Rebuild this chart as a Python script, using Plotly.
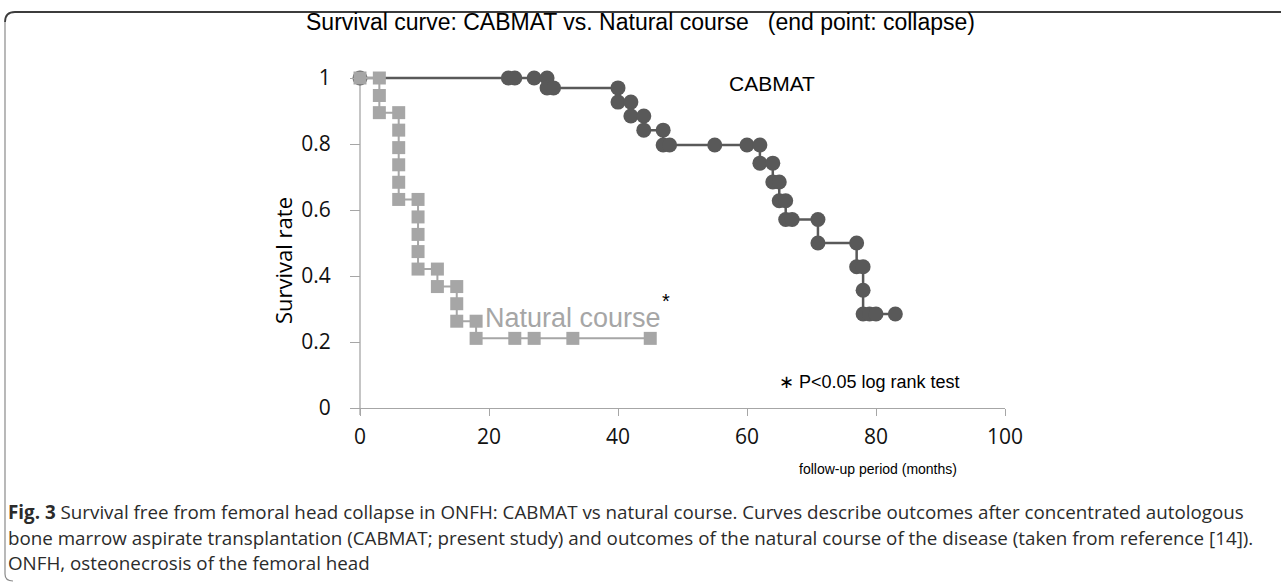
import plotly.graph_objects as go

# ---------------- data ----------------
x_ticks = [0, 20, 40, 60, 80, 100]
y_ticks = [0, 0.2, 0.4, 0.6, 0.8, 1]
y_tick_text = ["0", "0.2", "0.4", "0.6", "0.8", "1"]

# Natural course (Kaplan-Meier step points, months / survival rate)
nat_months = [0, 3, 3, 3, 6, 6, 6, 6, 6, 6, 9, 9, 9, 9, 9, 12, 12, 15, 15, 15,
              18, 18, 24, 27, 33, 45]
nat_surv = [1, 1, 0.947, 0.895, 0.895, 0.842, 0.789, 0.737, 0.684, 0.632,
            0.632, 0.579, 0.526, 0.474, 0.421, 0.421, 0.368, 0.368, 0.316, 0.263,
            0.263, 0.211, 0.211, 0.211, 0.211, 0.211]

# CABMAT
cab_months = [0, 23, 24, 27, 29, 29, 30, 40, 40, 42, 42, 44, 44, 47, 47, 48, 55,
              60, 62, 62, 64, 64, 65, 65, 66, 66, 67, 71, 71, 77, 77, 78, 78, 78,
              79, 80, 83]
cab_surv = [1, 1, 1, 1, 1, 0.97, 0.97, 0.97, 0.927, 0.927, 0.885, 0.885, 0.842,
            0.842, 0.797, 0.797, 0.797, 0.797, 0.797, 0.742, 0.742, 0.685, 0.685,
            0.628, 0.628, 0.571, 0.571, 0.571, 0.5, 0.5, 0.428, 0.428, 0.357,
            0.285, 0.285, 0.285, 0.285]

W, H = 1281, 582
DARK = "#595959"
LIGHT = "#a6a6a6"
AXIS = "#a6a6a6"


def px(x):
    return x / W


def py(y):
    return 1 - y / H


fig = go.Figure()

fig.add_trace(go.Scatter(
    x=cab_months, y=cab_surv, mode="lines+markers", cliponaxis=False,
    line=dict(color=DARK, width=2.5),
    marker=dict(symbol="circle", size=15, color=DARK, line=dict(width=0)),
    showlegend=False, hoverinfo="skip"))

fig.add_trace(go.Scatter(
    x=nat_months, y=nat_surv, mode="lines+markers", cliponaxis=False,
    line=dict(color=LIGHT, width=2),
    marker=dict(symbol="square", size=13, color=LIGHT, line=dict(width=0)),
    showlegend=False, hoverinfo="skip"))

# axis geometry: x=0 at px 360, x=100 at px 1005; y=0 at px 408, y=1 at px 78
xscale = (1005 - 360) / 100.0
yscale = (408 - 78) / 1.0
x_lo = -(360 - 352) / xscale
y_lo = -(415 - 408) / yscale
y_hi = 1 + (78 - 55) / yscale

TICKFONT = dict(family="Open Sans", size=21, color="#111")

fig.update_layout(
    width=W, height=H, autosize=False,
    margin=dict(l=0, r=0, t=0, b=0, pad=0, autoexpand=False),
    paper_bgcolor="white", plot_bgcolor="rgba(0,0,0,0)",
    showlegend=False,
    xaxis=dict(
        domain=[px(352), px(1005)], range=[x_lo, 100], automargin=False,
        anchor="free", position=py(408),
        showline=True, linecolor=AXIS, linewidth=1.3,
        ticks="outside", ticklen=7, tickcolor=AXIS, tickwidth=1.3,
        tickvals=x_ticks, ticktext=[str(v) for v in x_ticks],
        tickfont=TICKFONT, ticklabelstandoff=3,
        showgrid=False, zeroline=False,
    ),
    yaxis=dict(
        domain=[py(415), py(55)], range=[y_lo, y_hi], automargin=False,
        anchor="free", position=px(360),
        showline=False,
        ticks="outside", ticklen=10, tickcolor=AXIS, tickwidth=1.3,
        tickvals=y_ticks, ticktext=y_tick_text,
        tickfont=TICKFONT, ticklabelstandoff=15,
        showgrid=False, zeroline=False,
    ),
)

shapes = [
    # y axis line (x=0, from just below 0 to 1)
    dict(type="line", xref="x", yref="y", x0=0, x1=0, y0=y_lo, y1=1,
         line=dict(color=AXIS, width=1.3), layer="below"),
    # frame: top line
    dict(type="path", xref="paper", yref="paper",
         path=f"M {px(1281)},{py(12)} L {px(15)},{py(12)} Q {px(5)},{py(12)} {px(5)},{py(22)}",
         line=dict(color="#3c3c3c", width=1.8)),
    # frame: left line
    dict(type="path", xref="paper", yref="paper",
         path=f"M {px(5)},{py(22)} L {px(5)},{py(574)} Q {px(5)},{py(581)} {px(13)},{py(581)}",
         line=dict(color="#8a8a8a", width=1.2)),
]
fig.update_layout(shapes=shapes)

ann = []


def add_text(x, y, text, size, color="#000", family="Liberation Sans, Arial",
             xanchor="center", angle=0):
    ann.append(dict(x=px(x), y=py(y), xref="paper", yref="paper", text=text,
                    showarrow=False, xanchor=xanchor, yanchor="middle",
                    textangle=angle, align="left",
                    font=dict(family=family, size=size, color=color)))


add_text(640, 22, "Survival curve: CABMAT vs. Natural course &nbsp; (end point: collapse)", 23)
add_text(772, 84, "CABMAT", 21)
add_text(573, 318, "Natural course", 27, color=LIGHT)
add_text(666, 301, "*", 20)
add_text(869, 382, "∗ P<0.05 log rank test", 18)
add_text(878, 469, "follow-up period (months)", 14)
add_text(283, 261, "Survival rate", 22, family="Open Sans", angle=-90)

cap_font = "Open Sans"
cap_color = "#2b2b2b"
cap_size = 18.8
add_text(6, 512, "<b>Fig. 3</b> Survival free from femoral head collapse in ONFH: CABMAT vs natural course. "
         "Curves describe outcomes after concentrated autologous", cap_size,
         color=cap_color, family=cap_font, xanchor="left")
add_text(6, 538, "bone marrow aspirate transplantation (CABMAT; present study) and outcomes of the natural "
         "course of the disease (taken from reference [14]).", cap_size,
         color=cap_color, family=cap_font, xanchor="left")
add_text(6, 563, "ONFH, osteonecrosis of the femoral head", cap_size,
         color=cap_color, family=cap_font, xanchor="left")

fig.update_layout(annotations=ann)

post = (
    "document.body.style.margin='0';"
    "document.body.style.padding='0';"
    "document.body.style.overflow='hidden';"
)

fig.write_html("out.html", config={"displayModeBar": False}, post_script=post)
